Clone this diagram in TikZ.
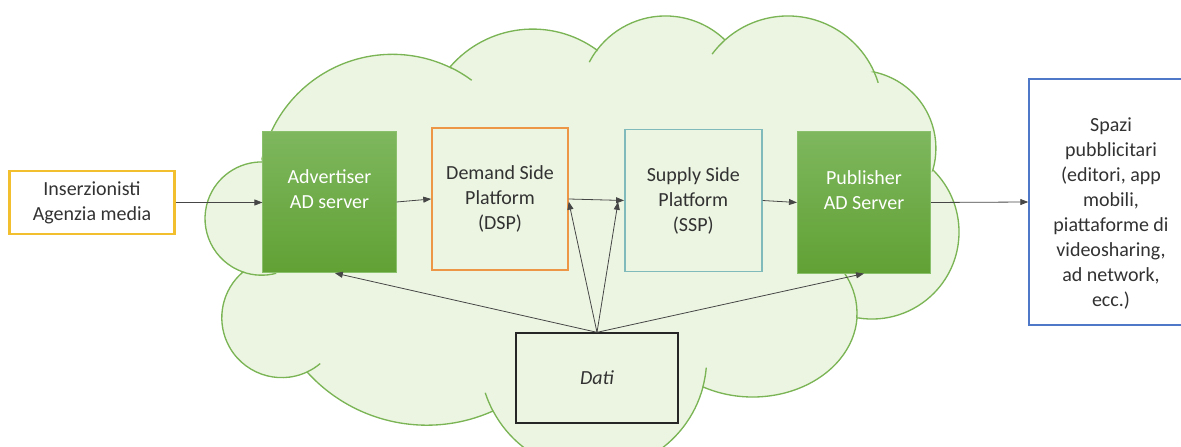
\documentclass[tikz,border=0pt]{standalone}
\usepackage{fontspec}
\setmainfont{Carlito}
\usepackage{xcolor}
\usetikzlibrary{arrows.meta, positioning, calc}
\definecolor{cloudfill}{RGB}{236, 245, 226}
\definecolor{cloudline}{RGB}{122, 180, 84}
\definecolor{servertop}{RGB}{126, 183, 94}
\definecolor{serverbottom}{RGB}{97, 161, 52}
\definecolor{serveredge}{RGB}{138, 192, 108}
\definecolor{goldline}{RGB}{242, 192, 46}
\definecolor{dsporange}{RGB}{237, 150, 70}
\definecolor{sspteal}{RGB}{128, 186, 186}
\definecolor{spaziblue}{RGB}{80, 120, 200}
\definecolor{textgray}{RGB}{50, 50, 50}
\definecolor{linegray}{RGB}{70, 70, 70}

\begin{document}
\begin{tikzpicture}[
    x=0.75pt, y=0.75pt,
    box/.style={
        rectangle, draw=#1, line width=1.1pt,
        inner sep=0pt, align=center, text=textgray,
        font=\fontsize{15}{18.75}\selectfont
    },
    boxtext/.style={
        align=center, text=textgray, inner sep=0pt,
        font=\fontsize{15}{18.75}\selectfont
    },
    server/.style={
        rectangle, draw=serveredge, line width=0.6pt,
        top color=servertop, bottom color=serverbottom,
        inner sep=0pt, align=center, text=white,
        font=\fontsize{15}{18.75}\selectfont,
        minimum width=100pt, minimum height=106pt
    },
    cloudpath/.style={fill=cloudfill, draw=cloudline, line width=1pt},
    cloudtail/.style={draw=cloudline, line width=1pt},
    arrow/.style={-{Triangle[length=6pt, width=4.5pt]}, line width=0.6pt, draw=linegray}
]

\useasboundingbox (0,0) rectangle (1181,446);
\clip (0,0) rectangle (1181,446);

% ==============================================================================
% CLOUD
% ==============================================================================
\path[cloudpath] (262,287)
    arc[start angle=167.5, end angle=64.3, radius=133.6] -- (450,379)
    arc[start angle=139.3, end angle=53.8, radius=109] -- (597,396)
    arc[start angle=142.9, end angle=46, radius=85.8] -- (725,406)
    arc[start angle=131.8, end angle=24, radius=94.4] -- (874,374)
    arc[start angle=78.1, end angle=-16.3, radius=78] -- (933,276)
    arc[start angle=45.5, end angle=-99.2, radius=87] -- (857,128)
    arc[start angle=-3.4, end angle=-118.3, x radius=104.5, y radius=84] -- (703,59)
    arc[start angle=-14.9, end angle=-152, radius=113.5] -- (493,35)
    arc[start angle=-65.8, end angle=-137.9, radius=161.4] -- (307,74)
    arc[start angle=-65, end angle=-229.7, radius=59.9] -- (243,174)
    arc[start angle=-109.2, end angle=-271.4, radius=56.6] -- cycle;

% inner ends of the puffs
\foreach \cx/\cy/\r/\a/\b in {392/258.5/133.6/64.3/53.4, 665.4/344.2/85.8/142.9/152.5,
    787.9/335.6/94.4/131.8/143.4, 787.9/335.6/94.4/24/17, 593.2/88.3/113.5/-14.9/-5,
    593.2/88.3/113.5/-152/-162, 281.7/128.3/59.9/-65/-50, 261.6/227.4/56.6/-109.2/-75}
    \draw[cloudtail] (\cx,\cy) ++(\a:\r) arc[start angle=\a, end angle=\b, radius=\r];
\draw[cloudtail] (752.5,133) ++(-3.4:104.5 and 84) arc[start angle=-3.4, end angle=28, x radius=104.5, y radius=84];

% ==============================================================================
% CHAIN OF PLATFORMS
% ==============================================================================
\node[box=goldline, line width=1.6pt, minimum width=123.75pt, minimum height=47.25pt] (ins) at (92,243.5) {Inserzionisti\\Agenzia media};

\node[server] (adv) at (329.5,244) {Advertiser\\AD server\\\mbox{}};

\node[box=dsporange, minimum width=102pt, minimum height=106.5pt] (dsp) at (500,247) {Demand Side\\Platform\\(DSP)};

\node[box=sspteal, minimum width=102.75pt, minimum height=106.5pt] (ssp) at (693.3,245.5) {Supply Side\\Platform\\(SSP)};

\node[server] (pub) at (864,243.5) {Publisher\\AD Server\\\mbox{}};

\node[box=spaziblue, minimum width=123pt, minimum height=184.5pt,
    label={[boxtext, yshift=-9pt]center:{Spazi\\pubblicitari\\(editori, app\\mobili,\\piattaforme di\\videosharing,\\ad network,\\ecc.)}}] (spazi) at (1111,244) {};

\draw[arrow] (ins.east) -- (ins.east -| adv.west);
\draw[arrow] (adv.east) -- (dsp.west);
\draw[arrow] (dsp.east) -- (ssp.west);
\draw[arrow] (ssp.east) -- (pub.west);
\draw[arrow] (pub.east) -- (spazi.west);

% ==============================================================================
% DATA
% ==============================================================================
\node[box=black!85, line width=1pt, minimum width=121.5pt, minimum height=67.5pt] (dati) at (597,68) {\textit{Dati}};

\draw[arrow] (dati.north) -- ([xshift=4pt]adv.south);
\draw[arrow] (dati.north) -- ([yshift=-2pt]dsp.east);
\draw[arrow] (dati.north) -- ([xshift=-4.5pt, yshift=-1pt]ssp.west);
\draw[arrow] (dati.north) -- (pub.south);

\end{tikzpicture}
\end{document}
